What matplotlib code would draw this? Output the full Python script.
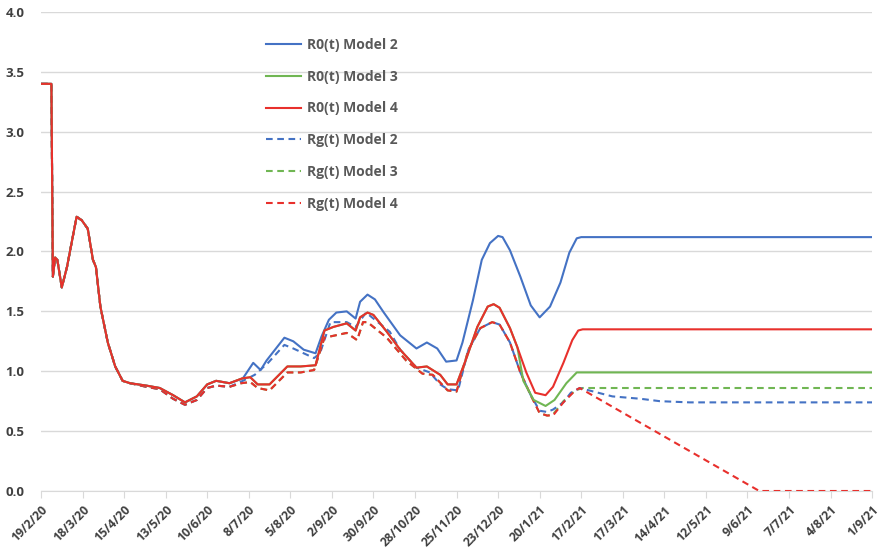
import numpy as np
import pandas as pd
import matplotlib
matplotlib.use('Agg')
import matplotlib.pyplot as plt

plt.rcParams['font.family'] = ['Open Sans', 'DejaVu Sans']

# tick dates along the x axis (every 4 weeks)
tick_labels = ['19/2/20', '18/3/20', '15/4/20', '13/5/20', '10/6/20', '8/7/20', '5/8/20',
               '2/9/20', '30/9/20', '28/10/20', '25/11/20', '23/12/20', '20/1/21', '17/2/21',
               '17/3/21', '14/4/21', '12/5/21', '9/6/21', '7/7/21', '4/8/21', '1/9/21']
tick_dates = pd.to_datetime(tick_labels, format='%d/%m/%y')
start = tick_dates[0]

# common start of every curve (days since 19/2/20)
early_days = [0, 7, 8, 9.5, 11, 14, 17.5, 19.5, 24, 27.5, 31.5, 35, 37, 40, 45, 50,
              55, 60, 71, 80, 89, 97, 105, 112, 118, 127]
early_r0 = [3.40, 3.40, 1.79, 1.95, 1.93, 1.70, 1.87, 2.00, 2.29, 2.26, 2.19, 1.93, 1.87,
            1.54, 1.24, 1.04, 0.92, 0.90, 0.88, 0.86, 0.80, 0.74, 0.79, 0.89, 0.92, 0.90]
early_rg = [3.40, 3.40, 1.79, 1.95, 1.93, 1.70, 1.87, 2.00, 2.29, 2.26, 2.19, 1.93, 1.87,
            1.54, 1.24, 1.04, 0.92, 0.90, 0.87, 0.85, 0.77, 0.72, 0.76, 0.86, 0.88, 0.87]

# R0(t) Model 2
r0_m2_days = [136, 143, 148, 152, 164, 170, 177, 185, 189, 194, 199, 206, 212, 215, 220,
              225, 231, 242, 253, 260, 267, 273, 280, 284, 291, 297, 302.5, 308, 311, 316,
              323, 330, 336, 343, 350, 356, 361, 364, 560]
r0_m2_vals = [0.94, 1.07, 1.01, 1.09, 1.28, 1.25, 1.18, 1.15, 1.29, 1.43, 1.49, 1.50, 1.44,
              1.58, 1.64, 1.60, 1.49, 1.30, 1.19, 1.24, 1.19, 1.08, 1.09, 1.24, 1.59, 1.93,
              2.07, 2.13, 2.12, 2.01, 1.79, 1.55, 1.45, 1.54, 1.74, 1.99, 2.11, 2.12, 2.12]

# R0(t) Model 4
r0_m4_days = [135.5, 141, 146, 154, 166, 175, 185, 191, 197, 206, 212, 215, 220, 224, 233,
              242, 253, 260, 269, 274, 280, 287, 294, 301, 305, 309, 316, 321, 327, 333,
              340, 345, 352, 358, 362, 365, 560]
r0_m4_vals = [0.94, 0.95, 0.89, 0.89, 1.04, 1.04, 1.05, 1.34, 1.37, 1.40, 1.34, 1.45, 1.49,
              1.47, 1.33, 1.18, 1.03, 1.04, 0.97, 0.89, 0.89, 1.12, 1.37, 1.54, 1.56, 1.53,
              1.36, 1.20, 0.99, 0.82, 0.80, 0.87, 1.07, 1.26, 1.34, 1.35, 1.35]

# R0(t) Model 3 (splits from Model 4 after the December peak)
r0_m3_days = [325, 332, 340, 346, 354, 361, 365, 560]
r0_m3_vals = [0.92, 0.76, 0.71, 0.76, 0.90, 0.99, 0.99, 0.99]

# Rg(t) Model 4
rg_m4_days = [135, 141, 146, 154, 166, 175, 184, 191, 206, 213, 217, 220, 233, 246, 257,
              264, 274, 280, 288, 296, 304, 309, 316, 323, 330, 336, 341, 345, 352, 360,
              363, 484, 560]
rg_m4_vals = [0.90, 0.91, 0.86, 0.84, 0.99, 0.99, 1.01, 1.28, 1.32, 1.26, 1.41, 1.41, 1.28,
              1.09, 0.98, 0.97, 0.84, 0.83, 1.18, 1.36, 1.41, 1.39, 1.24, 0.99, 0.80, 0.65,
              0.63, 0.63, 0.74, 0.84, 0.86, 0.0, 0.0]

# Rg(t) Model 2
rg_m2_days = [136, 144, 153, 164, 170, 184, 188, 195, 206, 212, 219, 229, 235, 242, 253,
              262, 269, 274, 281, 288, 296, 304, 309, 316, 323, 330, 336, 341, 345, 352,
              357, 363, 385, 404, 417, 437, 560]
rg_m2_vals = [0.92, 0.97, 1.07, 1.22, 1.19, 1.11, 1.15, 1.41, 1.41, 1.37, 1.49, 1.39, 1.33,
              1.18, 1.03, 0.99, 0.89, 0.85, 0.84, 1.18, 1.36, 1.41, 1.39, 1.24, 0.99, 0.80,
              0.67, 0.66, 0.68, 0.74, 0.82, 0.86, 0.79, 0.77, 0.75, 0.74, 0.74]

# Rg(t) Model 3 (follows Model 4 until the January trough)
rg_m3_days = [341, 345, 352, 360, 365, 560]
rg_m3_vals = [0.63, 0.64, 0.75, 0.84, 0.86, 0.86]


def to_dates(days):
    return start + pd.to_timedelta(np.asarray(days, dtype=float), unit='D')


def join(days_a, vals_a, days_b, vals_b):
    # keep the part of the first curve that lies before the second one begins
    keep = [i for i, d in enumerate(days_a) if d < days_b[0]]
    d = [days_a[i] for i in keep] + list(days_b)
    v = [vals_a[i] for i in keep] + list(vals_b)
    return to_dates(d), v


blue = '#4472C4'
green = '#70B653'
red = '#E8302C'

x_m2, y_m2 = join(early_days, early_r0, r0_m2_days, r0_m2_vals)
x_m4, y_m4 = join(early_days, early_r0, r0_m4_days, r0_m4_vals)
x_m3, y_m3 = join(early_days + r0_m4_days, early_r0 + r0_m4_vals, r0_m3_days, r0_m3_vals)
xg_m2, yg_m2 = join(early_days, early_rg, rg_m2_days, rg_m2_vals)
xg_m4, yg_m4 = join(early_days, early_rg, rg_m4_days, rg_m4_vals)
xg_m3, yg_m3 = join(early_days + rg_m4_days, early_rg + rg_m4_vals, rg_m3_days, rg_m3_vals)

fig = plt.figure(figsize=(8.8, 5.57), dpi=100)
ax = fig.add_axes([0.0466, 0.1185, 0.9444, 0.8600])

lw = 1.5
dash = (3.2, 2.2)
ax.plot(x_m2, y_m2, color=blue, lw=lw, label='R0(t) Model 2', zorder=4)
ax.plot(x_m3, y_m3, color=green, lw=lw, label='R0(t) Model 3', zorder=5)
ax.plot(x_m4, y_m4, color=red, lw=lw, label='R0(t) Model 4', zorder=6)
ax.plot(xg_m2, yg_m2, color=blue, lw=lw, ls=(0, dash), label='Rg(t) Model 2', zorder=3)
ax.plot(xg_m3, yg_m3, color=green, lw=lw, ls=(0, dash), label='Rg(t) Model 3', zorder=2)
ax.plot(xg_m4, yg_m4, color=red, lw=lw, ls=(0, dash), label='Rg(t) Model 4', zorder=3.5)

ax.set_ylim(0, 4.0)
ax.set_yticks(np.arange(0, 4.01, 0.5))
ax.set_yticklabels(['%.1f' % v for v in np.arange(0, 4.01, 0.5)])
ax.set_xlim(tick_dates[0], tick_dates[-1])
ax.set_xticks(tick_dates)
ax.set_xticklabels(tick_labels, rotation=45, ha='right', va='top', rotation_mode='anchor')

ax.grid(axis='y', color='#D9D9D9', lw=1.0)
ax.set_axisbelow(True)
for s in ['top', 'right', 'left']:
    ax.spines[s].set_visible(False)
ax.spines['bottom'].set_color('#D9D9D9')
ax.tick_params(axis='y', length=0, pad=12, labelsize=9.5, labelcolor='#404040')
ax.tick_params(axis='x', length=5, color='#D9D9D9', pad=4, labelsize=8.8, labelcolor='#404040')
for t in ax.get_xticklabels() + ax.get_yticklabels():
    t.set_fontweight('bold')

leg = ax.legend(loc='upper left', bbox_to_anchor=(0.256, 0.972), frameon=False,
                handlelength=2.5, handletextpad=0.4, labelspacing=1.28,
                prop={'size': 10, 'weight': 'bold'})
for t in leg.get_texts():
    t.set_color('#595959')

fig.savefig('out.png', dpi=100)
